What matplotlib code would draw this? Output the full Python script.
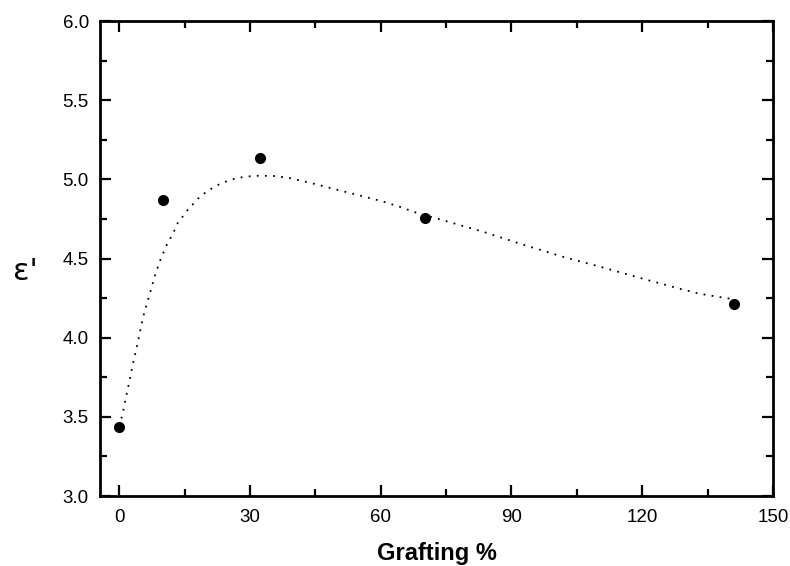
import matplotlib
matplotlib.use("Agg")
import matplotlib.pyplot as plt
from matplotlib.ticker import MultipleLocator

plt.rcParams['font.family'] = ['Liberation Sans', 'DejaVu Sans']

# measured points
graft = [0, 10.1, 32.3, 70.2, 141]
eps = [3.437, 4.869, 5.133, 4.754, 4.21]

# dotted fit curve
curve_x = [0, 0.85, 1.5, 2.2, 3.2, 4.4, 5.4, 6.4, 7.3, 8.3, 9.5, 10.9, 12.4, 13.4,
           15.7, 18.7, 22.1, 25.4, 28.8, 32.1, 35.5, 38.8, 40.4, 45.3, 50.3, 55.2,
           60.5, 64, 68.6, 73.6, 83.5, 91.9, 101.9, 111, 120.2, 128.3, 133.2, 141]
curve_y = [3.44, 3.526, 3.617, 3.705, 3.841, 3.985, 4.122, 4.217, 4.305, 4.40, 4.495,
           4.585, 4.66, 4.722, 4.806, 4.896, 4.958, 4.996, 5.017, 5.023, 5.021, 5.01,
           5.0, 4.968, 4.932, 4.898, 4.86, 4.83, 4.785, 4.747, 4.669, 4.594, 4.51,
           4.443, 4.372, 4.311, 4.277, 4.242]

xticks = [0, 30, 60, 90, 120, 150]
yticks = [3.0, 3.5, 4.0, 4.5, 5.0, 5.5, 6.0]

fig = plt.figure(figsize=(7.9, 5.66), dpi=100)
ax = fig.add_axes([100/790, 1-496/566, 673/790, 475/566])

ax.plot(curve_x, curve_y, color='black', linewidth=1.3, linestyle=(0, (1, 3.5)))
ax.plot(graft, eps, 'o', color='black', markersize=7)

ax.set_xlim(-4.4, 150)
ax.set_ylim(3.0, 6.0)
ax.set_xticks(xticks)
ax.set_xticklabels([str(t) for t in xticks])
ax.set_yticks(yticks)
ax.set_yticklabels([f"{t:.1f}" for t in yticks])
ax.xaxis.set_minor_locator(MultipleLocator(15))
ax.yaxis.set_minor_locator(MultipleLocator(0.25))

for s in ax.spines.values():
    s.set_linewidth(2.0)

ax.tick_params(which='both', direction='in', top=True, right=True, width=1.6,
               labelsize=13.5, pad=8)
ax.tick_params(axis='x', which='major', pad=9)
ax.tick_params(which='major', length=8)
ax.tick_params(which='minor', length=5)

ax.set_xlabel('Grafting %', fontsize=17, fontweight='bold', labelpad=12)
fig.text(25/790, 1-272/566, "ε'", fontsize=22, ha='center', va='center',
         family=['DejaVu Sans'])

fig.savefig('out.png', dpi=100)
